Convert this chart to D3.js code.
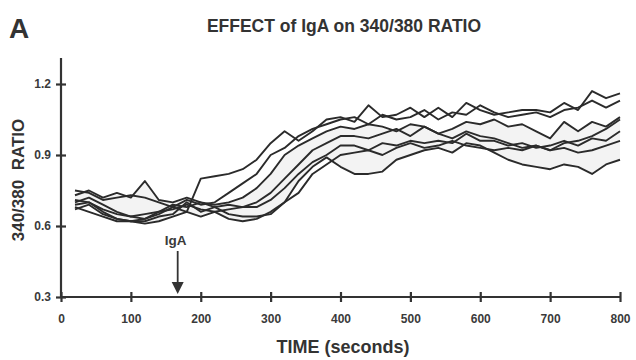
<!DOCTYPE html>
<html>
<head>
<meta charset="utf-8">
<title>EFFECT of IgA on 340/380 RATIO</title>
<style>
  body { margin: 0; background: #fff; }
  svg { font-family: "Liberation Sans", Arial, sans-serif; font-weight: bold; }
  .trace { fill: none; stroke: #2b2b2b; stroke-width: 1.9; stroke-linejoin: round; }
  .band { fill: #f3f3f3; stroke: none; }
  .axis path, .axis line { stroke: #333; stroke-width: 2.2; }
  .axis text { fill: #3a3a3a; font-size: 12px; font-weight: bold; }
</style>
</head>
<body>
<svg id="chart" width="636" height="360"></svg>
<script src="https://cdn.jsdelivr.net/npm/d3@7"></script>
<script>
// sample times (seconds)
var times = d3.range(20, 801, 20)

// seven 340/380 traces
var trace1 = [0.70,0.72,0.69,0.66,0.64,0.63,0.65,0.68,0.66,0.80,0.81,0.82,0.84,
              0.88,0.95,1.00,0.96,1.00,1.05,1.06,
              1.04,1.11,1.06,1.07,1.10,1.06,1.10,1.06,1.12,1.09,
              1.07,1.08,1.09,1.09,1.08,1.12,1.09,1.17,1.14,1.16]
var trace2 = [0.75,0.74,0.71,0.72,0.73,0.72,0.70,0.68,0.71,0.69,0.70,0.74,0.78,
              0.82,0.90,0.93,0.98,1.01,1.03,1.05,
              1.06,1.03,1.07,1.05,1.06,1.09,1.05,1.08,1.07,1.11,
              1.08,1.06,1.07,1.08,1.06,1.09,1.10,1.13,1.10,1.13]
var trace3 = [0.73,0.75,0.72,0.74,0.72,0.79,0.71,0.70,0.72,0.70,0.69,0.70,0.72,
              0.76,0.82,0.90,0.94,0.97,1.00,1.02,
              1.01,1.03,1.02,1.00,1.03,1.02,0.99,1.01,1.04,1.03,
              1.05,1.02,1.03,1.00,0.97,1.04,1.00,1.04,1.02,1.06]
var trace4 = [0.71,0.70,0.67,0.65,0.64,0.65,0.66,0.69,0.68,0.70,0.68,0.69,0.68,
              0.70,0.74,0.80,0.86,0.92,0.95,0.98,
              0.98,0.97,0.99,1.01,0.98,1.02,0.99,0.97,1.00,0.98,
              0.97,0.95,0.93,0.94,0.92,0.95,0.96,0.98,1.01,1.05]
var trace5 = [0.69,0.70,0.66,0.63,0.62,0.63,0.66,0.67,0.69,0.67,0.66,0.67,0.68,
              0.68,0.71,0.76,0.82,0.87,0.90,0.94,
              0.94,0.92,0.95,0.94,0.96,0.95,0.96,0.95,0.99,0.96,
              0.96,0.94,0.95,0.93,0.94,0.96,0.94,0.97,0.96,1.00]
var trace6 = [0.68,0.66,0.64,0.62,0.62,0.62,0.64,0.65,0.70,0.66,0.68,0.65,0.64,
              0.64,0.65,0.70,0.74,0.82,0.86,0.90,
              0.91,0.92,0.90,0.93,0.95,0.93,0.94,0.96,0.94,0.93,
              0.92,0.93,0.92,0.94,0.92,0.93,0.91,0.92,0.94,0.96]
var trace7 = [0.67,0.69,0.65,0.63,0.62,0.61,0.62,0.64,0.66,0.64,0.66,0.63,0.62,
              0.63,0.66,0.70,0.79,0.85,0.89,0.85,
              0.82,0.82,0.83,0.88,0.90,0.92,0.93,0.91,0.95,0.94,
              0.91,0.88,0.86,0.85,0.84,0.86,0.85,0.82,0.86,0.88]
var traces = [trace1, trace2, trace3, trace4, trace5, trace6, trace7]

var xTicks = [0, 100, 200, 300, 400, 500, 600, 700, 800]
var yTicks = [0.3, 0.6, 0.9, 1.2]
var igaTime = 167

var svg = d3.select('#chart')

var x = d3.scaleLinear().domain([0, 800]).range([61, 620])
var y = d3.scaleLinear().domain([0.3, 1.2]).range([297, 84])

// light shaded envelope between two traces
var band = d3.area()
  .x((d, i) => x(times[i]))
  .y0((d, i) => y(trace7[i]))
  .y1((d, i) => y(trace3[i]))
svg.append('path').attr('class', 'band').attr('d', band(times))

var line = d3.line()
  .x((d, i) => x(times[i]))
  .y(d => y(d))

svg.selectAll('.trace')
  .data(traces)
  .enter().append('path')
  .attr('class', 'trace')
  .attr('d', d => line(d))

// axes with ticks crossing the axis line
var xAxis = svg.append('g').attr('class', 'axis')
  .attr('transform', 'translate(0,297)')
  .call(d3.axisBottom(x).tickValues(xTicks).tickFormat(d3.format('d'))
    .tickSizeInner(5).tickSizeOuter(0).tickPadding(12))
xAxis.selectAll('.tick line').attr('y1', -5)
xAxis.select('.domain').attr('d', 'M61,0H620')

var yAxis = svg.append('g').attr('class', 'axis')
  .attr('transform', 'translate(61,0)')
  .call(d3.axisLeft(y).tickValues(yTicks).tickFormat(d3.format('.1f'))
    .tickSizeInner(5).tickSizeOuter(0).tickPadding(5))
yAxis.selectAll('.tick line').attr('x1', 5)
yAxis.select('.domain').attr('d', 'M0,' + y(0.3) + 'V' + (y(1.2) - 26))

// IgA arrow
var ax = x(igaTime)
svg.append('line')
  .attr('x1', ax).attr('x2', ax).attr('y1', 251).attr('y2', 284)
  .attr('stroke', '#333').attr('stroke-width', 1.8)
svg.append('path')
  .attr('d', 'M' + (ax - 6) + ',282L' + (ax + 6) + ',282L' + ax + ',294Z')
  .attr('fill', '#333')
svg.append('text')
  .attr('x', ax - 2).attr('y', 245)
  .attr('text-anchor', 'middle')
  .attr('font-size', '13.5px').attr('fill', '#3a3a3a')
  .text('IgA')

// titles and labels
svg.append('text')
  .attr('x', 9).attr('y', 38)
  .attr('font-size', '28px').attr('fill', '#333')
  .text('A')
svg.append('text')
  .attr('x', 344).attr('y', 32)
  .attr('text-anchor', 'middle')
  .attr('font-size', '17.5px').attr('fill', '#333')
  .text('EFFECT of IgA on 340/380 RATIO')
svg.append('text')
  .attr('transform', 'translate(24,180) rotate(-90)')
  .attr('text-anchor', 'middle')
  .attr('font-size', '17px').attr('fill', '#333')
  .style('white-space', 'pre')
  .text('340/380  RATIO')
svg.append('text')
  .attr('x', 343).attr('y', 353)
  .attr('text-anchor', 'middle')
  .attr('font-size', '18px').attr('fill', '#333')
  .text('TIME (seconds)')
</script>
</body>
</html>
